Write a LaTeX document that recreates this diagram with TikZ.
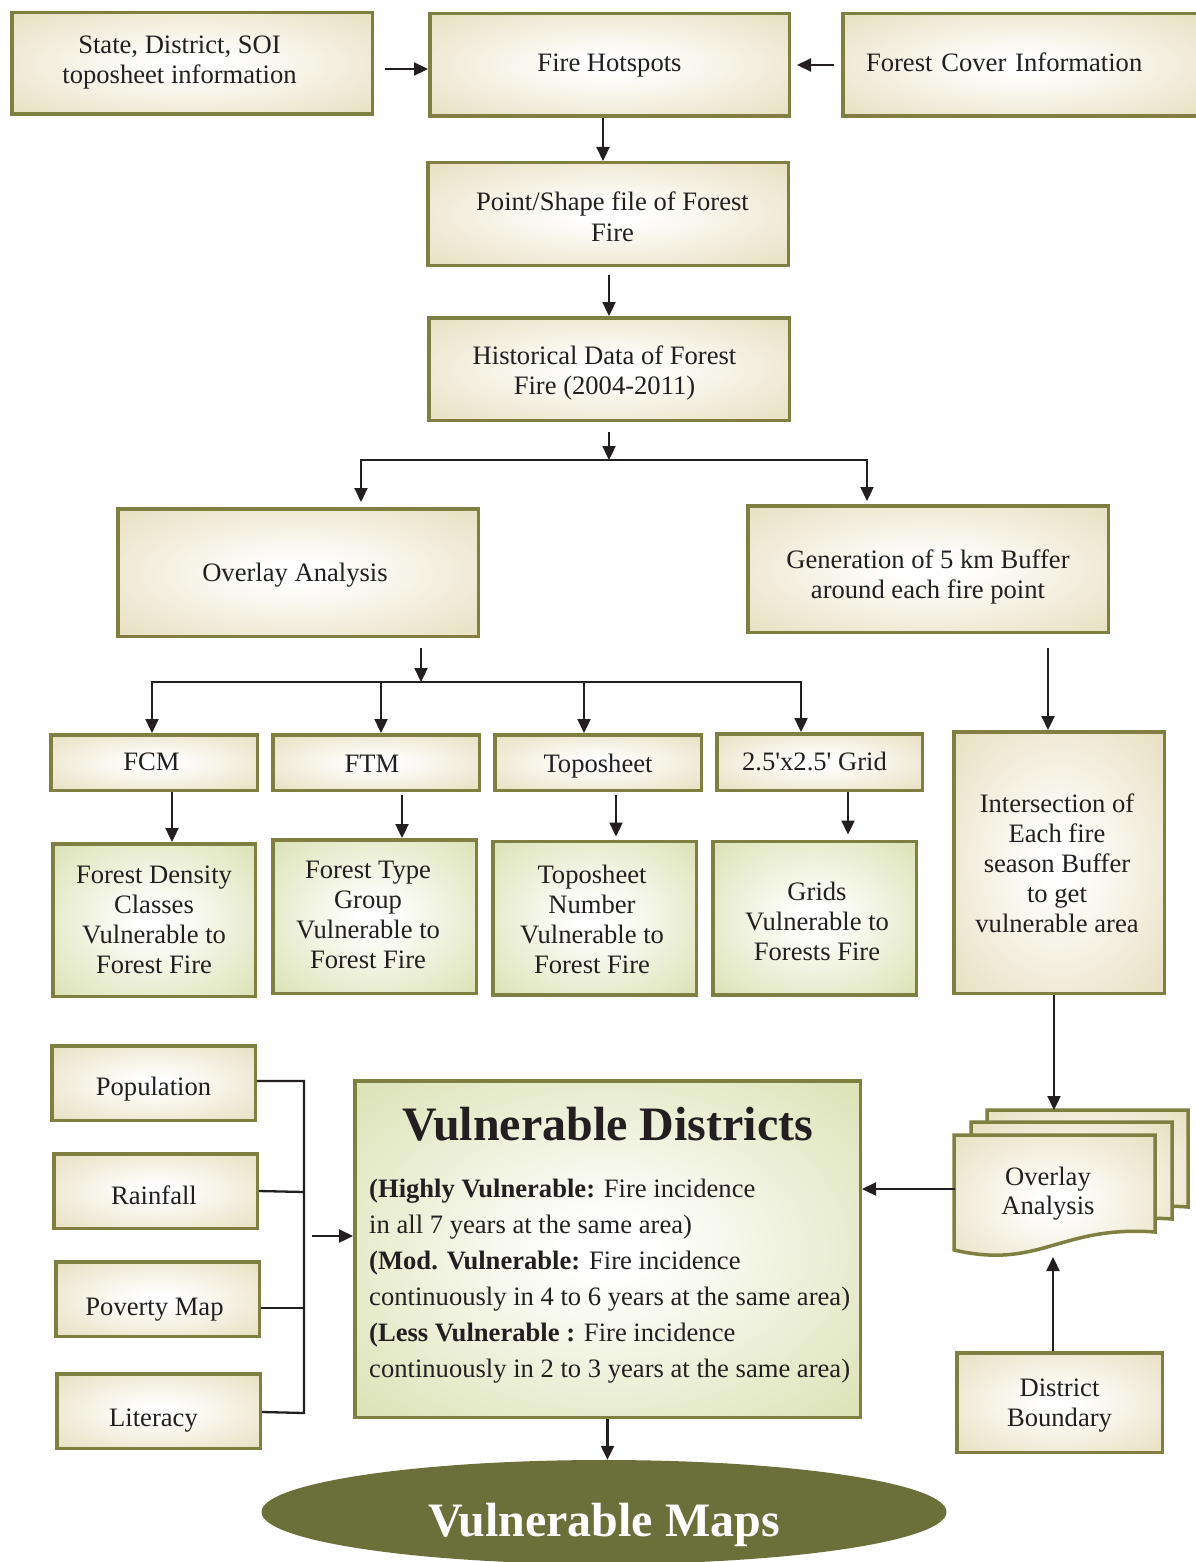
\documentclass[tikz,border=0pt]{standalone}
\usepackage{fontspec}
\setmainfont{Liberation Serif}[Ligatures=TeXOff]
\usetikzlibrary{arrows.meta,calc,shapes.geometric}
\definecolor{bord}{HTML}{7F7F42}
\definecolor{beigeO}{HTML}{E2D7B0}
\definecolor{greenO}{HTML}{D1DAA0}
\definecolor{olv}{HTML}{6B6F3A}
\definecolor{ink}{HTML}{231F20}
\pgfdeclareradialshading{beigesh}{\pgfpoint{0bp}{0bp}}{color(0bp)=(white); color(4bp)=(white); color(44bp)=(beigeO); color(75bp)=(beigeO)}
\pgfdeclareradialshading{greensh}{\pgfpoint{0bp}{0bp}}{color(0bp)=(white); color(4bp)=(white); color(44bp)=(greenO); color(75bp)=(greenO)}
\newcommand\sh[1]{\hspace*{#1}}
\begin{document}
\begin{tikzpicture}[x=1pt,y=-1pt,
  box/.style={draw=bord, line width=3.5pt, shading=beigesh, align=center,
    text=ink, font=\fontsize{26.6}{30}\selectfont, inner sep=0pt},
  gbox/.style={box, shading=greensh},
  bl/.style={text height=#1, text depth=0pt},
  sheet/.style={draw=bord, line width=3.5pt, shading=beigesh},
  arr/.style={draw=ink, line width=2.3pt, -{Triangle[length=14pt,width=13pt]}},
  ln/.style={draw=ink, line width=2.3pt}]
\useasboundingbox (0,0) rectangle (1195,1562);

% top row
\node[box, bl=41pt, minimum width=360.5pt, minimum height=101.5pt] (st) at (192,63.5) {\sh{-25pt}State, District, SOI\\\sh{-25pt}toposheet information};
\node[box, bl=14pt, minimum width=359.5pt, minimum height=102.5pt] (fh) at (609.5,65) {Fire Hotspots};
\node[box, bl=14pt, minimum width=360.5pt, minimum height=102.5pt, text width=340pt, inner xsep=10pt, align=left] (fc) at (1023,65) {\hspace*{13pt}Forest Cover Information};

\node[box, bl=54pt, minimum width=360.5pt, minimum height=102.5pt] (ps) at (608,214) {\sh{9pt}Point/Shape file of Forest\\\sh{9pt}Fire};
\node[box, bl=50pt, minimum width=360.5pt, minimum height=102.5pt] (hd) at (609,369) {\sh{-9pt}Historical Data of Forest\\\sh{-9pt}Fire (2004-2011)};

\node[box, bl=17pt, minimum width=360.5pt, minimum height=127.5pt] (oa) at (298,572.5) {\sh{-6pt}Overlay Analysis};
\node[box, bl=58pt, minimum width=360.5pt, minimum height=126.5pt] (gb) at (928,569) {Generation of 5 km Buffer\\around each fire point};

% small boxes
\node[box, bl=15pt, minimum width=206.5pt, minimum height=55.5pt] (fcm) at (154,762.5) {\sh{-5pt}FCM};
\node[box, bl=20pt, minimum width=206.5pt, minimum height=55.5pt] (ftm) at (376,762.5) {\sh{-8pt}FTM};
\node[box, bl=19pt, minimum width=206.5pt, minimum height=55.5pt] (tps) at (598,762.5) {Toposheet};
\node[box, bl=16pt, minimum width=205.5pt, minimum height=56.5pt] (grid) at (819.5,762) {\sh{-10pt}2.5'x2.5' Grid};

% green boxes
\node[gbox, bl=106pt, minimum width=202.5pt, minimum height=152.5pt] (fd) at (154,920) {Forest Density\\Classes\\Vulnerable to\\Forest Fire};
\node[gbox, bl=103pt, minimum width=203.5pt, minimum height=153.5pt] (ft) at (374.5,916.5) {\sh{-13pt}Forest Type\\\sh{-13pt}Group\\\sh{-13pt}Vulnerable to\\\sh{-13pt}Forest Fire};
\node[gbox, bl=110pt, minimum width=203.5pt, minimum height=153.5pt] (tn) at (594.5,918) {\sh{-5pt}Toposheet\\\sh{-5pt}Number\\\sh{-5pt}Vulnerable to\\\sh{-5pt}Forest Fire};
\node[gbox, bl=84pt, minimum width=203.5pt, minimum height=153.5pt] (gr) at (814.5,918) {\sh{5pt}Grids\\\sh{5pt}Vulnerable to\\\sh{5pt}Forests Fire};

\node[box, bl=139pt, minimum width=210.5pt, minimum height=261.5pt] (is) at (1059,862.5) {\sh{-4pt}Intersection of\\\sh{-4pt}Each fire\\\sh{-4pt}season Buffer\\\sh{-4pt}to get\\\sh{-4pt}vulnerable area};

% left boxes
\node[box, bl=24pt, minimum width=203.5pt, minimum height=74.5pt] (pop) at (153.5,1083) {Population};
\node[box, bl=26pt, minimum width=203.5pt, minimum height=74.5pt] (rain) at (155.5,1191) {\sh{-3pt}Rainfall};
\node[box, bl=32pt, minimum width=203.5pt, minimum height=74.5pt] (pov) at (157.5,1299) {\sh{-6pt}Poverty Map};
\node[box, bl=30pt, minimum width=203.5pt, minimum height=74.5pt] (lit) at (158.5,1411) {\sh{-10pt}Literacy};

% vulnerable districts
\node[gbox, minimum width=505.5pt, minimum height=336.5pt] (vd) at (607.5,1249) {};
\node[text=ink, font=\fontsize{48}{52}\selectfont\bfseries, inner sep=0pt, anchor=base] (vdt) at (608,1140) {Vulnerable Districts};
\node[text=ink, font=\fontsize{26.6}{36}\selectfont, inner sep=0pt, align=left, anchor=base west] (vdb) at (369,1377)
 {\textbf{(Highly Vulnerable:} Fire incidence\\
  in all 7 years at the same area)\\
  \textbf{(Mod. Vulnerable:} Fire incidence\\
  continuously in 4 to 6 years at the same area)\\
  \textbf{(Less Vulnerable :} Fire incidence\\
  continuously in 2 to 3 years at the same area)};

% district boundary
\node[box, bl=47pt, minimum width=205.5pt, minimum height=99.5pt] (db) at (1059.5,1402.5) {District\\Boundary};

% overlay document stack
\path[sheet] (987,1110) -- (1188,1110) -- (1188,1207) .. controls (1093,1200) and (1073,1245) .. (987,1225) -- cycle;
\path[sheet] (971,1122) -- (1172,1122) -- (1172,1219) .. controls (1077,1212) and (1057,1257) .. (971,1237) -- cycle;
\path[sheet] (954,1135) -- (1155,1135) -- (1155,1232) .. controls (1060,1225) and (1040,1270) .. (954,1250) -- cycle;
\node[text=ink, font=\fontsize{26.6}{29}\selectfont, align=center, inner sep=0pt, anchor=base] (ovl) at (1048,1214) {Overlay\\Analysis};
\coordinate (ovlTop) at (1054,1110);
\coordinate (ovlBot) at (1053,1257);
\coordinate (ovlLeft) at (955,1189);

% final ellipse
\node[ellipse, fill=olv, minimum width=685pt, minimum height=104pt, inner sep=0pt, text=white, bl=48pt,
  font=\fontsize{48}{52}\selectfont\bfseries] (ell) at (604,1512) {Vulnerable Maps};

% connectors
\draw[arr] ([xshift=11pt,yshift=-5.5pt]st.east) -- ([yshift=-5.5pt]st.east -| fh.west);
\draw[arr] ([xshift=-7pt]fc.west) -- ([xshift=6pt]fh.east);
\draw[arr] ([xshift=-6.5pt]fh.south) -- ([xshift=-6.5pt]fh.south |- ps.north);
\draw[arr] ([xshift=1pt,yshift=-8pt]ps.south) -- ([xshift=1pt]ps.south |- hd.north);

\coordinate (j1) at (609,460);
\coordinate (jL) at (361,460);
\coordinate (jR) at (867,460);
\draw[arr] ([yshift=-10pt]hd.south) -- (j1);
\draw[ln] ([xshift=-1.15pt]jL) -- ([xshift=1.15pt]jR);
\draw[arr] (jL) -- ([yshift=5pt]jL |- oa.north);
\draw[arr] (jR) -- ([yshift=3pt]jR |- gb.north);

\coordinate (k1) at (421,682);
\coordinate (kA) at (152,682);
\coordinate (kB) at (381,682);
\coordinate (kC) at (584,682);
\coordinate (kD) at (801,682);
\draw[arr] ([yshift=-10pt]oa.south -| k1) -- (k1);
\draw[ln] ([xshift=-1.15pt]kA) -- ([xshift=1.15pt]kD);
\draw[arr] (kA) -- (kA |- fcm.north);
\draw[arr] (kB) -- (kB |- ftm.north);
\draw[arr] (kC) -- (kC |- tps.north);
\draw[arr] (kD) -- (kD |- grid.north);

\draw[arr] ([xshift=18pt]fcm.south) -- ([xshift=18pt]fcm.south |- fd.north);
\draw[arr] ([xshift=26pt,yshift=-3pt]ftm.south) -- ([xshift=26pt]ftm.south |- ft.north);
\draw[arr] ([xshift=18pt,yshift=-3pt]tps.south) -- ([xshift=18pt,yshift=3pt]tps.south |- tn.north);
\draw[arr] ([xshift=28.5pt]grid.south) -- ([xshift=28.5pt,yshift=5pt]grid.south |- gr.north);

\draw[arr] ([xshift=120pt,yshift=-14pt]gb.south) -- ([xshift=120pt]gb.south |- is.north);
\draw[arr] ([xshift=-5pt]is.south) -- (ovlTop);
\draw[arr] ([xshift=-6.5pt]db.north) -- (ovlBot);
\draw[arr] (ovlLeft) -- (vd.east |- ovlLeft);

\coordinate (bx) at (304,1236);
\draw[ln] (pop.east |- 0,1081) -- (304,1081) -- (304,1413) -- (lit.east |- 0,1412);
\draw[ln] (rain.east) -- (304,1192);
\draw[ln] (pov.east |- 0,1308) -- (304,1308);
\draw[arr] ([xshift=8pt]bx) -- (vd.west |- bx);
\draw[arr] (vd.south) -- (vd.south |- ell.north);
\end{tikzpicture}
\end{document}
